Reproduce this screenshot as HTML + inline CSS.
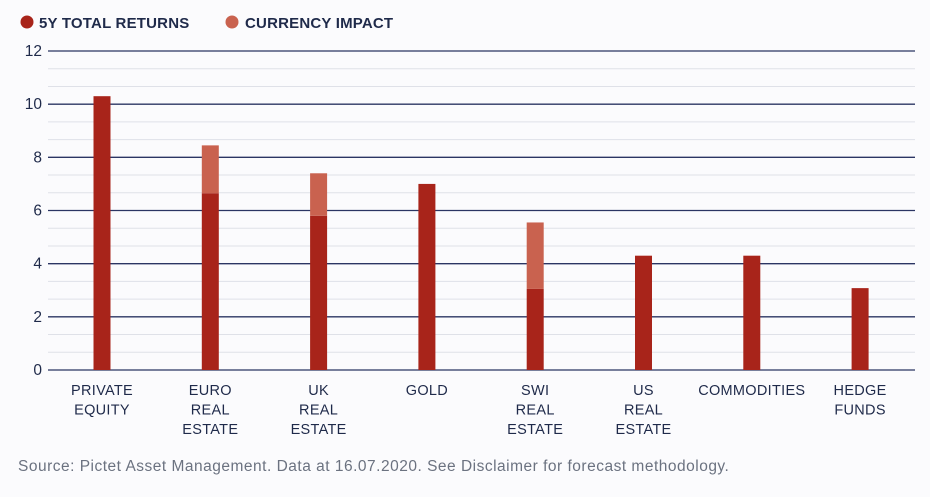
<!DOCTYPE html>
<html><head><meta charset="utf-8"><style>
body{margin:0;background:#fbfbfd;}
svg text{font-family:"Liberation Sans",sans-serif;}
</style></head><body>
<svg id="chart" width="930" height="492" xmlns="http://www.w3.org/2000/svg">
<rect width="930" height="492" fill="#fbfbfd"/>
<g>
<circle cx="27" cy="22" r="6.5" fill="#a8241a"/>
<text x="39" y="28" font-size="15" font-weight="bold" fill="#1f2a4a" letter-spacing="0.2">5Y TOTAL RETURNS</text>
<circle cx="232" cy="22" r="6.5" fill="#c9624f"/>
<text x="245" y="28" font-size="15" font-weight="bold" fill="#1f2a4a" letter-spacing="0.2">CURRENCY IMPACT</text>
</g>
<g id="grid"></g>
<g id="bars"></g>
<g id="xlabels"></g>
<text x="18" y="471" font-size="15.5" fill="#6b7280" letter-spacing="0.5">Source: Pictet Asset Management. Data at 16.07.2020. See Disclaimer for forecast methodology.</text>
</svg>
<script>
const categories=[["PRIVATE","EQUITY"],["EURO","REAL","ESTATE"],["UK","REAL","ESTATE"],["GOLD"],["SWI","REAL","ESTATE"],["US","REAL","ESTATE"],["COMMODITIES"],["HEDGE","FUNDS"]];
const totalReturns=[10.3,6.65,5.8,7.0,3.05,4.3,4.3,3.08];
const currencyImpact=[0,1.8,1.6,0,2.5,0,0,0];
const yTicks=[0,2,4,6,8,10,12];
const NS="http://www.w3.org/2000/svg";
const y0=370,yTop=51,yMax=12,xL=48,xR=915,x0c=102,step=108.3,bw=17;
const y=v=>y0-(v/yMax)*(y0-yTop);
const x=i=>x0c+i*step;
function mk(t,a,p){const e=document.createElementNS(NS,t);for(const k in a)e.setAttribute(k,a[k]);p.appendChild(e);return e;}
const grid=document.getElementById('grid');
for(let k=1;k<18;k++){if(k%3===0)continue;const v=k*2/3;
const l=mk('line',{x1:xL,x2:xR,y1:y(v),y2:y(v),stroke:'#dfe1e8','stroke-width':1},grid);

}
yTicks.forEach(v=>{
const l=mk('line',{x1:xL,x2:xR,y1:y(v),y2:y(v),stroke:'#2b3563','stroke-width':1.3},grid);


const t=mk('text',{x:42,y:y(v)+5,'text-anchor':'end','font-size':15.5,fill:'#1f2a4a'},grid);
t.textContent=v;

});
const bars=document.getElementById('bars');
totalReturns.forEach((v,i)=>{
const r=mk('rect',{x:x(i)-bw/2,y:y(v),width:bw,height:y(0)-y(v),fill:'#a8241a'},bars);


if(currencyImpact[i]>0){
const c=mk('rect',{x:x(i)-bw/2,y:y(v+currencyImpact[i]),width:bw,height:y(v)-y(v+currencyImpact[i]),fill:'#c9624f'},bars);

}});
const xl=document.getElementById('xlabels');
categories.forEach((c,i)=>{c.forEach((s,j)=>{
const t=mk('text',{x:x(i),y:395+j*19.5,'text-anchor':'middle','font-size':14.5,fill:'#1f2a4a','letter-spacing':0.3},xl);
t.textContent=s;

});});
</script>
</body></html>
